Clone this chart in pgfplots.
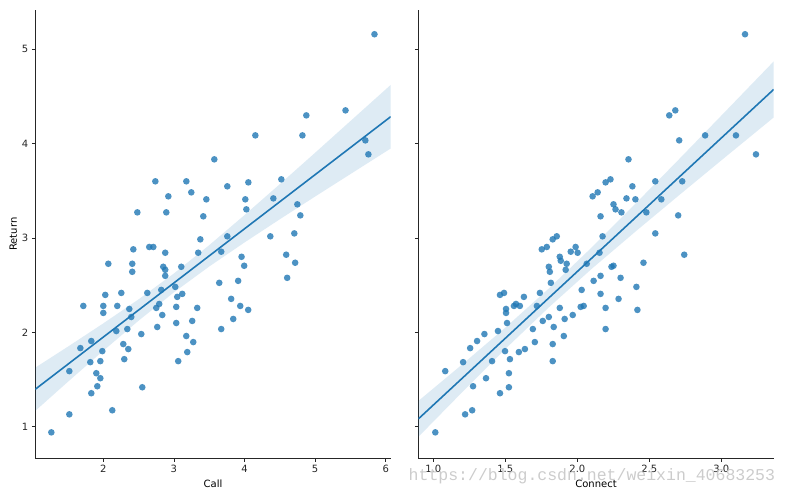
\documentclass[border=0pt]{standalone}
\usepackage{pgfplots}
\pgfplotsset{compat=1.18}
\usepackage{pgfplotstable}
\usepackage{fontspec}
\setmainfont{DejaVu Sans}
\newfontfamily\wmfont{Liberation Mono}
\definecolor{sbblue}{HTML}{1F77B4}
\definecolor{axgray}{HTML}{262626}

% Call vs Return
\pgfplotstableread{
x y
5.84 5.16
5.43 4.353
4.875 4.30
4.82 4.088
4.153 4.088
5.711 4.035
5.754 3.887
3.572 3.834
2.737 3.601
3.176 3.601
4.521 3.622
3.756 3.548
4.054 3.590
3.246 3.484
2.921 3.442
3.459 3.410
4.011 3.410
4.408 3.420
2.482 3.272
2.892 3.272
3.416 3.230
4.026 3.304
4.748 3.357
4.790 3.240
3.374 2.986
3.756 3.018
4.365 3.018
4.705 3.049
2.425 2.880
2.651 2.905
2.708 2.905
2.877 2.844
3.344 2.844
3.670 2.855
3.958 2.801
4.590 2.823
2.071 2.727
2.410 2.727
4.717 2.738
3.995 2.706
2.849 2.695
3.104 2.695
2.877 2.663
2.410 2.642
2.877 2.599
4.604 2.578
3.642 2.525
3.910 2.546
3.019 2.482
2.821 2.450
2.255 2.418
2.623 2.418
2.028 2.397
3.118 2.408
3.047 2.376
3.811 2.355
2.792 2.301
1.717 2.280
2.000 2.280
2.198 2.280
3.939 2.280
3.033 2.270
2.750 2.259
3.330 2.259
2.368 2.248
4.052 2.238
2.000 2.206
2.835 2.184
2.396 2.163
3.840 2.142
3.259 2.121
3.033 2.099
2.764 2.057
3.670 2.035
2.340 2.035
2.184 2.014
2.538 1.982
3.175 1.961
1.830 1.908
3.274 1.897
1.675 1.833
2.283 1.876
2.354 1.823
1.986 1.801
3.189 1.791
2.297 1.716
1.958 1.695
3.061 1.695
1.816 1.684
1.519 1.589
1.901 1.567
1.958 1.514
1.915 1.429
2.552 1.418
1.830 1.355
2.127 1.174
1.519 1.131
1.264 0.940
}\calltab

% Connect vs Return
\pgfplotstableread{
x y
3.164 5.16
2.638 4.30
2.680 4.353
2.887 4.088
3.101 4.088
2.707 4.035
3.240 3.887
2.355 3.834
2.196 3.590
2.230 3.622
2.541 3.601
2.728 3.601
2.382 3.548
2.106 3.442
2.141 3.484
2.251 3.357
2.341 3.420
2.403 3.410
2.583 3.410
2.265 3.304
2.306 3.272
2.479 3.272
2.161 3.230
2.700 3.240
2.175 3.018
2.541 3.049
1.829 2.986
1.857 3.018
1.788 2.905
1.753 2.880
1.988 2.905
1.954 2.855
2.002 2.844
2.154 2.844
1.878 2.801
1.885 2.759
1.926 2.727
2.065 2.727
1.802 2.695
2.237 2.695
2.251 2.706
2.459 2.738
2.742 2.823
1.919 2.663
1.809 2.642
2.161 2.599
2.300 2.578
2.113 2.546
1.816 2.525
2.410 2.482
2.030 2.450
1.463 2.397
1.491 2.418
1.740 2.418
2.161 2.408
1.629 2.376
2.286 2.355
1.574 2.301
1.560 2.280
1.601 2.280
1.719 2.280
2.023 2.270
2.044 2.280
1.505 2.248
1.878 2.259
2.196 2.259
2.417 2.238
1.505 2.206
1.968 2.184
1.802 2.163
1.912 2.142
1.760 2.121
1.512 2.099
1.836 2.057
1.691 2.035
2.196 2.035
1.449 2.014
1.355 1.982
1.906 1.961
1.304 1.908
1.705 1.897
1.829 1.876
1.256 1.833
1.636 1.823
1.594 1.791
1.498 1.801
1.532 1.716
1.408 1.695
1.829 1.695
1.207 1.684
1.083 1.589
1.525 1.567
1.366 1.514
1.276 1.429
1.525 1.418
1.463 1.355
1.270 1.174
1.221 1.131
1.014 0.940
}\conntab

\pgfplotsset{
  regstyle/.style={
    scale only axis,
    width=355.4pt, height=448.3pt,
    axis x line*=bottom, axis y line*=left,
    axis line style={axgray, line width=0.9pt},
    tick align=outside,
    major tick length=3.5pt,
    tick style={axgray, line width=0.8pt},
    ymin=0.665, ymax=5.417,
    ytick={1,2,3,4,5},
    tick label style={font=\fontsize{10}{12}\selectfont, text=axgray},
    label style={font=\fontsize{10}{12}\selectfont, text=black},
    /pgf/number format/assume math mode=true,
  },
  dots/.style={only marks, mark=*, mark size=3.3pt, color=sbblue,
    mark options={sbblue, fill=sbblue, fill opacity=0.8, draw opacity=0}},
}

\begin{document}
\begin{tikzpicture}
\useasboundingbox (-35.3pt,-37.7pt) rectangle (749.7pt,458.3pt);

\begin{axis}[regstyle,
  xmin=1.037, xmax=6.07,
  xtick={2,3,4,5,6},
  xlabel={Call}, ylabel={Return},
  ylabel style={yshift=-2pt},
]
\addplot[draw=none, fill=sbblue, fill opacity=0.15] coordinates {
(1.037,1.626) (1.5,1.849) (2,2.095) (2.5,2.350) (3,2.624) (3.5,2.924)
(4,3.243) (4.5,3.571) (5,3.904) (5.5,4.240) (6.07,4.623)
(6.07,3.949) (5.5,3.678) (5,3.440) (4.5,3.199) (4,2.953) (3.5,2.698)
(3,2.424) (2.5,2.124) (2,1.805) (1.5,1.477) (1.037,1.168)
} -- cycle;
\addplot[dots] table[x=x, y=y] {\calltab};
\addplot[sbblue, line width=1.6pt] coordinates {(1.037,1.397) (6.07,4.286)};
\end{axis}

\begin{axis}[regstyle, at={(383pt,0pt)},
  xmin=0.896, xmax=3.363,
  xtick={1.0,1.5,2.0,2.5,3.0},
  xticklabel style={/pgf/number format/.cd, fixed, fixed zerofill, precision=1},
  yticklabels={},
  xlabel={Connect},
]
\addplot[draw=none, fill=sbblue, fill opacity=0.15] coordinates {
(0.896,1.272) (1.2,1.659) (1.5,2.050) (1.8,2.462) (2.1,2.900) (2.4,3.358)
(2.7,3.826) (3.0,4.298) (3.363,4.872)
(3.363,4.278) (3.0,3.824) (2.7,3.446) (2.4,3.064) (2.1,2.674) (1.8,2.262)
(1.5,1.824) (1.2,1.365) (0.896,0.892)
} -- cycle;
\addplot[dots] table[x=x, y=y] {\conntab};
\addplot[sbblue, line width=1.6pt] coordinates {(0.896,1.082) (3.363,4.575)};
\end{axis}

\node[anchor=east, text=black!20, font=\wmfont\fontsize{16.5}{18}\selectfont, inner sep=0pt]
  at (740pt,-18pt) {https://blog.csdn.net/weixin\_40683253};
\end{tikzpicture}
\end{document}
